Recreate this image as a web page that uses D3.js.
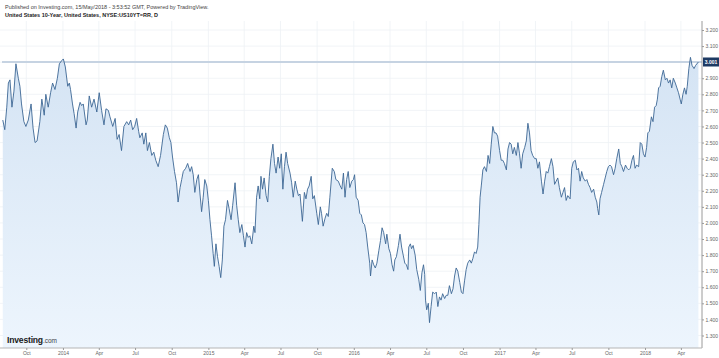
<!DOCTYPE html>
<html><head><meta charset="utf-8">
<script src="https://cdn.jsdelivr.net/npm/d3@7"></script>
<style>body{margin:0;background:#fff}svg{display:block;font-family:"Liberation Sans",Arial,sans-serif}</style>
</head><body><svg id="c" width="719" height="358"></svg>
<script>
const dates = ["2013-08-03","2013-08-08","2013-08-13","2013-08-17","2013-08-21","2013-08-26","2013-08-31","2013-09-05","2013-09-11","2013-09-15","2013-09-19","2013-09-25","2013-09-30","2013-10-06","2013-10-13","2013-10-18","2013-10-23","2013-10-28","2013-11-04","2013-11-09","2013-11-15","2013-11-19","2013-11-25","2013-12-01","2013-12-06","2013-12-12","2013-12-18","2013-12-23","2013-12-29",
"2014-01-02","2014-01-07","2014-01-13","2014-01-17","2014-01-20","2014-01-25","2014-01-29","2014-02-03","2014-02-07","2014-02-13","2014-02-17","2014-02-21","2014-02-28","2014-03-03","2014-03-08","2014-03-14","2014-03-20","2014-03-27","2014-04-02","2014-04-08","2014-04-14","2014-04-19","2014-04-25","2014-04-29","2014-05-06","2014-05-12","2014-05-17","2014-05-22","2014-05-28","2014-06-03","2014-06-10","2014-06-15","2014-06-20","2014-06-25","2014-06-30","2014-07-05","2014-07-10","2014-07-13","2014-07-19","2014-07-23","2014-07-28","2014-08-01","2014-08-06","2014-08-12","2014-08-17","2014-08-22","2014-08-28","2014-09-03","2014-09-10","2014-09-15","2014-09-20","2014-09-25","2014-09-29","2014-10-03","2014-10-08","2014-10-13","2014-10-17","2014-10-22","2014-10-26","2014-10-30","2014-11-05","2014-11-10","2014-11-16","2014-11-20","2014-11-24","2014-11-28","2014-12-03","2014-12-07","2014-12-11","2014-12-15","2014-12-19","2014-12-23","2014-12-28",
"2015-01-01","2015-01-05","2015-01-09","2015-01-13","2015-01-16","2015-01-20","2015-01-24","2015-01-28","2015-02-01","2015-02-05","2015-02-09","2015-02-13","2015-02-18","2015-02-22","2015-02-27","2015-03-03","2015-03-09","2015-03-13","2015-03-17","2015-03-21","2015-03-26","2015-03-30","2015-04-03","2015-04-07","2015-04-11","2015-04-15","2015-04-20","2015-04-25","2015-04-28","2015-05-02","2015-05-06","2015-05-10","2015-05-13","2015-05-17","2015-05-21","2015-05-26","2015-05-30","2015-06-03","2015-06-07","2015-06-12","2015-06-16","2015-06-20","2015-06-25","2015-06-29","2015-07-03","2015-07-07","2015-07-11","2015-07-15","2015-07-19","2015-07-25","2015-07-29","2015-08-02","2015-08-07","2015-08-11","2015-08-15","2015-08-19","2015-08-25","2015-08-30","2015-09-03","2015-09-07","2015-09-11","2015-09-16","2015-09-20","2015-09-24","2015-09-30","2015-10-04","2015-10-09","2015-10-12","2015-10-16","2015-10-21","2015-10-25","2015-10-29","2015-11-02","2015-11-08","2015-11-13","2015-11-17","2015-11-23","2015-11-28","2015-12-02","2015-12-06","2015-12-10","2015-12-14","2015-12-18","2015-12-22","2015-12-27","2015-12-31",
"2016-01-03","2016-01-07","2016-01-12","2016-01-16","2016-01-20","2016-01-24","2016-01-28","2016-02-01","2016-02-05","2016-02-10","2016-02-12","2016-02-16","2016-02-20","2016-02-24","2016-02-28","2016-03-04","2016-03-08","2016-03-12","2016-03-16","2016-03-21","2016-03-24","2016-03-29","2016-04-02","2016-04-06","2016-04-10","2016-04-13","2016-04-17","2016-04-22","2016-04-26","2016-04-30","2016-05-04","2016-05-08","2016-05-12","2016-05-16","2016-05-18","2016-05-22","2016-05-25","2016-05-29","2016-06-03","2016-06-07","2016-06-12","2016-06-16","2016-06-20","2016-06-24","2016-06-27","2016-06-29","2016-07-02","2016-07-06","2016-07-09","2016-07-13","2016-07-17","2016-07-22","2016-07-26","2016-07-30","2016-08-03","2016-08-07","2016-08-11","2016-08-16","2016-08-20","2016-08-24","2016-08-28","2016-09-02","2016-09-06","2016-09-10","2016-09-14","2016-09-18","2016-09-23","2016-09-27","2016-10-01","2016-10-05","2016-10-09","2016-10-13","2016-10-18","2016-10-22","2016-10-26","2016-10-30","2016-11-03","2016-11-07","2016-11-10","2016-11-13","2016-11-16","2016-11-20","2016-11-24","2016-11-29","2016-12-03","2016-12-07","2016-12-11","2016-12-15","2016-12-19","2016-12-23","2016-12-27",
"2017-01-01","2017-01-05","2017-01-09","2017-01-13","2017-01-18","2017-01-22","2017-01-26","2017-01-30","2017-02-03","2017-02-07","2017-02-12","2017-02-16","2017-02-20","2017-02-24","2017-02-28","2017-03-05","2017-03-09","2017-03-13","2017-03-17","2017-03-21","2017-03-25","2017-03-30","2017-04-03","2017-04-07","2017-04-11","2017-04-16","2017-04-20","2017-04-24","2017-04-28","2017-05-02","2017-05-06","2017-05-11","2017-05-15","2017-05-19","2017-05-23","2017-05-27","2017-05-31","2017-06-05","2017-06-09","2017-06-13","2017-06-17","2017-06-21","2017-06-27","2017-07-01","2017-07-05","2017-07-10","2017-07-14","2017-07-18","2017-07-22","2017-07-26","2017-07-30","2017-08-04","2017-08-08","2017-08-12","2017-08-16","2017-08-20","2017-08-25","2017-08-29","2017-09-02","2017-09-04","2017-09-07","2017-09-10","2017-09-14","2017-09-19","2017-09-23","2017-09-27","2017-10-01","2017-10-05","2017-10-09","2017-10-14","2017-10-18","2017-10-22","2017-10-27","2017-10-31","2017-11-04","2017-11-08","2017-11-13","2017-11-17","2017-11-21","2017-11-25","2017-11-29","2017-12-03","2017-12-07","2017-12-11","2017-12-16","2017-12-20","2017-12-24","2017-12-28",
"2018-01-01","2018-01-05","2018-01-08","2018-01-12","2018-01-17","2018-01-21","2018-01-25","2018-01-29","2018-02-01","2018-02-04","2018-02-08","2018-02-12","2018-02-16","2018-02-21","2018-02-25","2018-03-01","2018-03-05","2018-03-09","2018-03-13","2018-03-18","2018-03-22","2018-03-26","2018-03-30","2018-04-02","2018-04-06","2018-04-10","2018-04-14","2018-04-17","2018-04-21","2018-04-25","2018-04-29","2018-05-04","2018-05-08","2018-05-15"];
const yields = [2.64,2.58,2.72,2.87,2.89,2.72,2.82,2.99,2.90,2.85,2.74,2.63,2.60,2.64,2.74,2.59,2.50,2.51,2.63,2.77,2.67,2.80,2.72,2.81,2.87,2.83,2.90,2.99,3.01,
3.02,2.97,2.85,2.87,2.83,2.74,2.68,2.59,2.69,2.75,2.73,2.74,2.61,2.64,2.79,2.72,2.77,2.69,2.81,2.70,2.61,2.71,2.70,2.66,2.60,2.65,2.52,2.55,2.45,2.60,2.63,2.61,2.64,2.58,2.60,2.65,2.57,2.53,2.56,2.49,2.56,2.45,2.50,2.42,2.44,2.39,2.35,2.42,2.55,2.61,2.59,2.53,2.50,2.41,2.32,2.25,2.13,2.22,2.27,2.32,2.34,2.37,2.32,2.35,2.30,2.19,2.27,2.30,2.18,2.07,2.16,2.27,2.23,
2.14,2.02,1.92,1.81,1.73,1.87,1.79,1.73,1.66,1.77,1.98,2.02,2.14,2.09,2.02,2.11,2.25,2.11,2.02,1.94,1.99,1.92,1.85,1.94,1.91,1.92,1.87,1.98,1.94,2.16,2.23,2.15,2.29,2.21,2.28,2.17,2.13,2.29,2.40,2.49,2.37,2.31,2.41,2.34,2.43,2.21,2.35,2.44,2.37,2.31,2.25,2.16,2.26,2.21,2.17,2.18,2.01,2.19,2.15,2.21,2.23,2.29,2.15,2.17,2.06,1.99,2.10,2.06,1.98,2.03,2.06,2.04,2.16,2.34,2.32,2.27,2.26,2.23,2.21,2.31,2.16,2.27,2.32,2.22,2.26,2.27,
2.30,2.16,2.14,2.06,2.05,2.00,1.99,1.94,1.85,1.75,1.67,1.77,1.74,1.72,1.75,1.83,1.89,1.97,1.94,1.87,1.93,1.84,1.81,1.74,1.70,1.77,1.79,1.86,1.93,1.85,1.80,1.75,1.74,1.71,1.85,1.87,1.84,1.86,1.80,1.71,1.65,1.58,1.69,1.74,1.68,1.52,1.46,1.50,1.38,1.48,1.57,1.56,1.57,1.48,1.54,1.52,1.56,1.53,1.55,1.55,1.61,1.56,1.59,1.67,1.72,1.70,1.63,1.57,1.56,1.64,1.71,1.75,1.77,1.75,1.78,1.82,1.81,1.85,1.99,2.16,2.23,2.33,2.35,2.32,2.42,2.37,2.49,2.60,2.56,2.56,2.54,
2.45,2.39,2.39,2.37,2.33,2.46,2.50,2.49,2.43,2.47,2.42,2.50,2.43,2.34,2.43,2.47,2.51,2.62,2.56,2.45,2.42,2.40,2.40,2.34,2.38,2.26,2.18,2.26,2.32,2.31,2.35,2.40,2.35,2.24,2.26,2.28,2.22,2.16,2.19,2.22,2.14,2.17,2.15,2.34,2.38,2.39,2.33,2.34,2.26,2.32,2.28,2.26,2.27,2.24,2.22,2.19,2.21,2.16,2.13,2.09,2.05,2.15,2.19,2.24,2.28,2.32,2.35,2.36,2.35,2.30,2.34,2.40,2.46,2.37,2.35,2.32,2.36,2.34,2.33,2.34,2.39,2.42,2.34,2.36,2.35,2.50,2.49,2.43,
2.41,2.47,2.56,2.57,2.66,2.63,2.72,2.73,2.77,2.84,2.85,2.91,2.95,2.89,2.90,2.87,2.89,2.84,2.90,2.87,2.84,2.81,2.77,2.74,2.80,2.84,2.80,2.85,2.96,3.03,2.98,2.96,2.98,3.001];
const yTicks = [1.3,1.4,1.5,1.6,1.7,1.8,1.9,2.0,2.1,2.2,2.3,2.4,2.5,2.6,2.7,2.8,2.9,3.0,3.1,3.2];
const monthNames = ["Jan","Feb","Mar","Apr","May","Jun","Jul","Aug","Sep","Oct","Nov","Dec"];
const lastValue = 3.001;
const headerLines = ["Published on Investing.com, 15/May/2018 - 3:53:52 GMT, Powered by TradingView.","United States 10-Year, United States, NYSE:US10YT=RR, D"];

const parse = d3.timeParse("%Y-%m-%d");
const data = dates.map((d,i)=>({date:parse(d), v:yields[i]}));
const svg = d3.select("#c");
const W = 702, plotTop = 21, plotBottom = 348;

const x = d3.scaleTime().domain([parse("2013-07-27"), parse("2018-05-24")]).range([0, W]);
const y = d3.scaleLinear().domain([1.3, 3.2]).range([335.5, 30]);

const defs = svg.append("defs");
const grad = defs.append("linearGradient").attr("id","g").attr("gradientUnits","userSpaceOnUse")
  .attr("x1",0).attr("x2",0).attr("y1",30).attr("y2",plotBottom);
grad.append("stop").attr("offset","0").attr("stop-color","#d2e2f3");
grad.append("stop").attr("offset","1").attr("stop-color","#edf5fd");
defs.append("clipPath").attr("id","clip").append("rect").attr("x",0).attr("y",plotTop).attr("width",W).attr("height",plotBottom-plotTop);

const xTicks = x.ticks(d3.timeMonth.every(3));
const grid = svg.append("g");
grid.selectAll("line.h").data(yTicks).join("line").attr("class","h")
  .attr("x1",0).attr("x2",W).attr("y1",d=>y(d)).attr("y2",d=>y(d))
  .attr("stroke","#eef1f5").attr("stroke-width",0.8);
grid.selectAll("line.v").data(xTicks).join("line").attr("class","v")
  .attr("x1",d=>x(d)).attr("x2",d=>x(d)).attr("y1",plotTop).attr("y2",plotBottom)
  .attr("stroke","#eef1f5").attr("stroke-width",0.8);

const plot = svg.append("g").attr("clip-path","url(#clip)");
plot.append("path").datum(data)
  .attr("d", d3.area().x(d=>x(d.date)).y0(plotBottom).y1(d=>y(d.v)))
  .attr("fill","url(#g)");
plot.append("line").attr("x1",2).attr("x2",W).attr("y1",y(lastValue)).attr("y2",y(lastValue))
  .attr("stroke","#c6d3e2").attr("stroke-width",2);
plot.append("path").datum(data)
  .attr("d", d3.line().x(d=>x(d.date)).y(d=>y(d.v)))
  .attr("fill","none").attr("stroke","#3c6694").attr("stroke-width",0.9).attr("stroke-linejoin","round");

const yAxis = d3.axisRight(y).tickValues(yTicks.filter(t=>Math.abs(t-lastValue)>0.05))
  .tickFormat(d3.format(".3f")).tickSize(2).tickPadding(1.5);
const ya = svg.append("g").attr("transform",`translate(${W},0)`).call(yAxis);
ya.select(".domain").attr("d",`M0,${plotTop}V${plotBottom}`).attr("stroke","#9a9a9a");
ya.selectAll(".tick line").attr("stroke","#9a9a9a");
ya.selectAll("text").attr("font-size",5).attr("fill","#666").attr("font-family","Liberation Sans, Arial, sans-serif");

const xAxis = d3.axisBottom(x).tickValues(xTicks)
  .tickFormat(d=>d.getMonth()===0 ? d3.timeFormat("%Y")(d) : monthNames[d.getMonth()])
  .tickSize(2).tickPadding(1.5);
const xa = svg.append("g").attr("transform",`translate(0,${plotBottom})`).call(xAxis);
xa.select(".domain").attr("d",`M0,0H${W}`).attr("stroke","#b5b5b5");
xa.selectAll(".tick line").attr("stroke","#9a9a9a");
xa.selectAll("text").attr("font-size",5).attr("fill","#666").attr("font-family","Liberation Sans, Arial, sans-serif");

const ly = y(lastValue);
svg.append("rect").attr("x",W+1).attr("y",ly-4.5).attr("width",16).attr("height",9).attr("fill","#1d3a63");
svg.append("text").attr("x",W+9).attr("y",ly+1.8).attr("text-anchor","middle")
  .attr("font-size",5).attr("font-weight","bold").attr("fill","#fff").text(d3.format(".3f")(lastValue));

svg.append("text").attr("x",5).attr("y",8.5).attr("font-size",5.5).attr("fill","#444").text(headerLines[0]);
svg.append("text").attr("x",5).attr("y",17).attr("font-size",5.5).attr("font-weight","bold").attr("fill","#222").text(headerLines[1]);

const logo = svg.append("text").attr("x",7).attr("y",343);
logo.append("tspan").attr("font-size",8.6).attr("font-weight","bold").attr("fill","#1a1a1a").attr("letter-spacing",-0.2).text("Investing");
logo.append("tspan").attr("font-size",6.5).attr("fill","#444").text(".com");
</script></body></html>
